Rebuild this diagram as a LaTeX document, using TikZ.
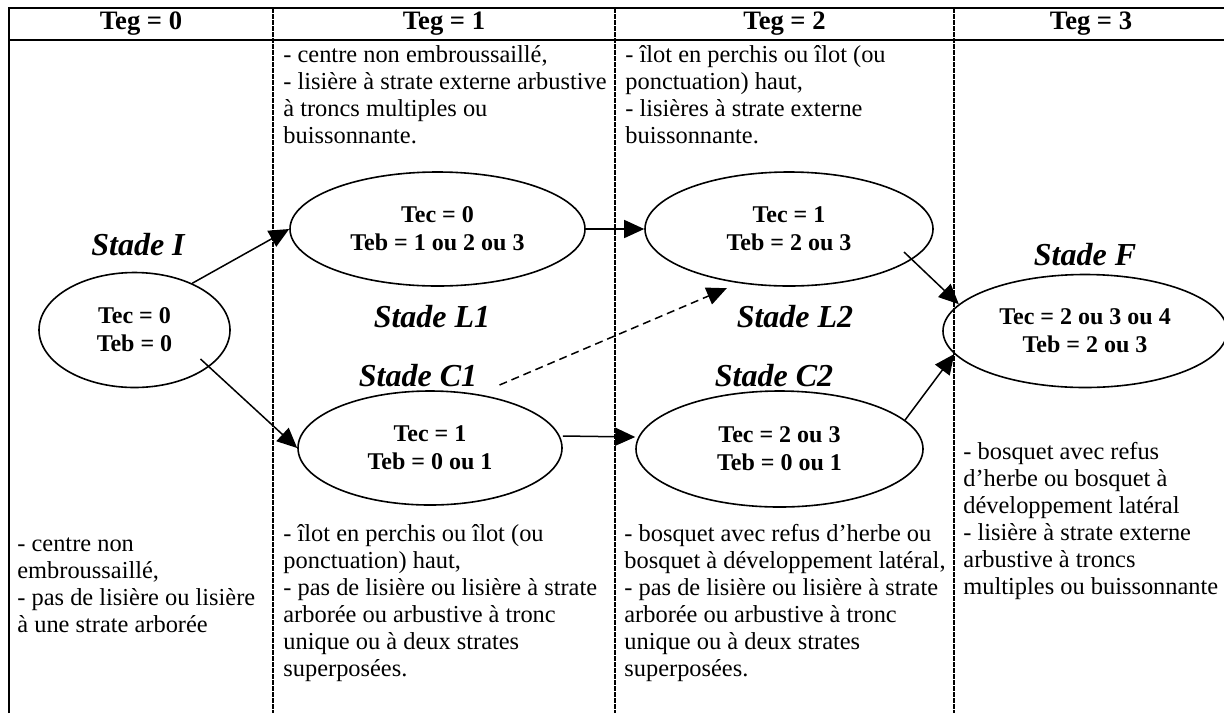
\documentclass[tikz,border=0pt]{standalone}
\usepackage{fontspec}
\setmainfont{Liberation Serif}
\usetikzlibrary{arrows.meta,shapes.geometric,positioning}
\tikzset{
  etat/.style={draw,ellipse,line width=0.8pt,inner sep=0pt,align=center,
               font=\fontsize{12}{14}\selectfont\bfseries},
  titre/.style={inner sep=0pt,font=\fontsize{16}{19}\selectfont\bfseries\itshape},
  entete/.style={inner sep=0pt,font=\fontsize{13.3}{15}\selectfont\bfseries},
  critere/.style={anchor=north west,inner sep=0pt,align=left,
                  font=\fontsize{12.2}{13.5}\selectfont},
  cadre/.style={line width=1pt},
  separ/.style={line width=1pt,dash pattern=on 2.5pt off 0.5pt},
  fleche/.style={line width=0.75pt,-{Triangle[length=10pt,width=9pt]}},
}
\newcommand{\stade}[7]{%
  \node[etat,minimum width=#4pt,minimum height=#5pt] (#1) at (#2,#3)
        {Tec = #6\\Teb = #7};
}
\newcommand{\critere}[4]{%
  \node[critere] (#1) at (#2,#3) {\strut #4};
}
\begin{document}
\begin{tikzpicture}[x=0.5pt,y=-0.5pt]
  \useasboundingbox (0,0) rectangle (1224,713);
  % table
  \draw[cadre] (9,713) |- (1232,8);
  \draw[cadre] (9,40) -- (1232,40);
  \foreach \x in {273,615,954}
    \draw[separ] (\x,8) -- (\x,713);
  \foreach \x/\n in {141/0,444/1,784.5/2,1091/3}
    \node[entete] (teg\n) at (\x,24) {Teg = \n};
  % stades
  \stade{I}{134.5}{330}{95.5}{57.5}{0}{0}
  \stade{L1}{437.5}{229}{147.5}{57}{0}{1 ou 2 ou 3}
  \stade{L2}{789}{229}{144}{57}{1}{2 ou 3}
  \stade{C1}{430}{448}{132}{57}{1}{0 ou 1}
  \stade{C2}{779.5}{449}{143.5}{58}{2 ou 3}{0 ou 1}
  \stade{F}{1085}{331}{142}{56.5}{2 ou 3 ou 4}{2 ou 3}
  \node[titre] (tI)  at (138,245)  {Stade I};
  \node[titre] (tL1) at (432,317)  {Stade L1};
  \node[titre] (tC1) at (418,376)  {Stade C1};
  \node[titre] (tL2) at (795,317)  {Stade L2};
  \node[titre] (tC2) at (774,376)  {Stade C2};
  \node[titre] (tF)  at (1085,255) {Stade F};
  % transitions
  \draw[fleche] (I.39) -- (L1.west);
  \draw[fleche] ([shift={(66,29)}]I.center) -- (C1.west);
  \draw[fleche] (L1) -- (L2);
  \draw[fleche] ([yshift=6pt]C1.east) -- ([yshift=6pt]C2.west);
  \draw[fleche] ([shift={(115,23)}]L2.center) -- (F.168);
  \draw[fleche] (C2.13) -- (F.190);
  \draw[fleche,dash pattern=on 4pt off 2.5pt] ([shift={(22,9)}]tC1.east) -- ([shift={(0,7)}]L2.220);
  % descriptions
  \critere{d1h}{283}{43}{- centre non embroussaillé,\\- lisière à strate externe arbustive\\à troncs multiples ou\\buissonnante.}
  \critere{d2h}{625}{43}{- îlot en perchis ou îlot (ou\\ponctuation) haut,\\- lisières à strate externe\\buissonnante.}
  \critere{d0b}{17}{532}{- centre non\\embroussaillé,\\- pas de lisière ou lisière\\à une strate arborée}
  \critere{d1b}{283}{522}{- îlot en perchis ou îlot (ou\\ponctuation) haut,\\- pas de lisière ou lisière à strate\\arborée ou arbustive à tronc\\unique ou à deux strates\\superposées.}
  \critere{d2b}{624}{522}{- bosquet avec refus d’herbe ou\\bosquet à développement latéral,\\- pas de lisière ou lisière à strate\\arborée ou arbustive à tronc\\unique ou à deux strates\\superposées.}
  \critere{d3b}{963}{440}{- bosquet avec refus\\d’herbe ou bosquet à\\développement latéral\\- lisière à strate externe\\arbustive à troncs\\multiples ou buissonnante}
\end{tikzpicture}
\end{document}
